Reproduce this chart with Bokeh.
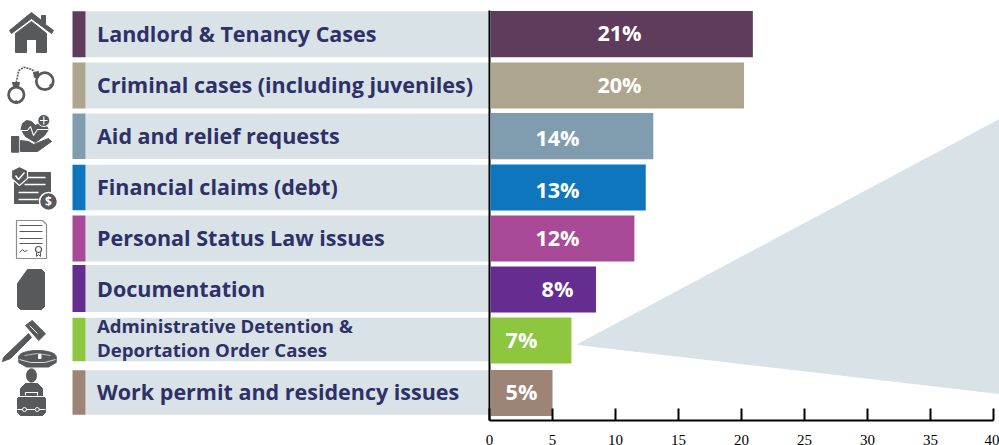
import math
from bokeh.plotting import figure
from bokeh.models import Range1d, FixedTicker
from bokeh.core.properties import value
from bokeh.embed import file_html
from bokeh.resources import INLINE

categories = ["Landlord & Tenancy Cases", "Criminal cases (including juveniles)",
              "Aid and relief requests", "Financial claims (debt)",
              "Personal Status Law issues", "Documentation",
              "Administrative Detention &\nDeportation Order Cases",
              "Work permit and residency issues"]
shares = [20.9, 20.2, 13.0, 12.4, 11.5, 8.45, 6.5, 5.0]
share_labels = ["21%", "20%", "14%", "13%", "12%", "8%", "7%", "5%"]
colors = ["#5f3c5c", "#ada58e", "#7f9dae", "#0e76bc", "#a84a97", "#652d90", "#8dc63f", "#9c8577"]
x_ticks = [0, 5, 10, 15, 20, 25, 30, 35, 40]

PANEL = "#d9e2e7"
NAVY = "#2e3068"
ICON = "#58595b"
PX = 12.6
ROW = 51.3
X0 = 489
Y0 = 34
FRAME_H = 420


def X(px):
    return (px - X0) / PX


def Y(py):
    return (py - Y0) / ROW


p = figure(width=999, height=445, frame_width=999, frame_height=FRAME_H,
           x_range=Range1d(X(0), X(999)), y_range=Range1d(Y(FRAME_H), Y(0)),
           toolbar_location=None, output_backend="svg", y_axis_location=None,
           min_border=0, min_border_left=0, min_border_right=0, min_border_top=0,
           min_border_bottom=25)
p.outline_line_color = None
p.grid.visible = False
p.background_fill_color = "white"

ax = p.xaxis[0]
ax.ticker = FixedTicker(ticks=x_ticks)
ax.bounds = (0, 40)
ax.axis_line_color = "black"
ax.axis_line_width = 2
ax.major_tick_line_color = "black"
ax.major_tick_line_width = 2
ax.major_tick_in = 12
ax.major_tick_out = 0
ax.minor_tick_line_color = None
ax.major_label_standoff = 14
ax.major_label_text_font = "Liberation Serif"
ax.major_label_text_font_size = "15px"
ax.major_label_text_color = "black"


def poly(pts, color=ICON, line=None, lw=1):
    p.patch([X(a) for a, _ in pts], [Y(b) for _, b in pts], fill_color=color,
            line_color=line if line else color, line_width=lw)


def pline(pts, color="white", lw=1.5, dash="solid"):
    p.line([X(a) for a, _ in pts], [Y(b) for _, b in pts], line_color=color,
           line_width=lw, line_dash=dash)


def dot(cx, cy, size, fill=ICON, line=None, lw=1):
    p.scatter([X(cx)], [Y(cy)], size=size, marker="circle", fill_color=fill,
              line_color=line if line else fill, line_width=lw)


def arc_pts(cx, cy, rx, ry, a0=0, a1=360, n=40):
    return [(cx + rx * math.cos(math.radians(a0 + (a1 - a0) * i / n)),
             cy + ry * math.sin(math.radians(a0 + (a1 - a0) * i / n))) for i in range(n + 1)]


# grey callout
poly([(577, 344), (999, 119), (999, 393)], PANEL, PANEL)

rows = list(range(len(categories)))
# left panels and colour strips
panel_c = [33.7, 85, 135.7, 187, 238, 288, 339, 392]
panel_h = [46, 46, 45.5, 45.5, 46, 47, 43.5, 44.5]
for r in rows:
    c = panel_c[r]
    h = panel_h[r]
    p.quad(left=X(85), right=X(489), top=Y(c - h / 2), bottom=Y(c + h / 2),
           fill_color=PANEL, line_color=None)
    p.quad(left=X(72), right=X(85), top=Y(c - h / 2), bottom=Y(c + h / 2),
           fill_color=colors[r], line_color=None)

# y axis line, behind the bars
p.segment([0], [Y(10)], [0], [Y(420)], line_color="black", line_width=2)

# bars
bar_c = [33.7, 85, 135.7, 187, 238, 289, 340, 392.5]
p.hbar(y=[Y(c) for c in bar_c], left=0.08, right=shares, height=0.9, fill_color=colors, line_color=None)

# category labels
name_c = [33, 84, 135, 186, 237, 287.5, 0, 391]
for r, name in enumerate(categories):
    if "\n" in name:
        a, b = name.split("\n")
        for t, py in ((a, 325), (b, 349)):
            p.text([X(96.5)], [Y(py)], text=[t], text_font=value("Open Sans"), text_font_style="bold",
                   text_font_size="18.6px", text_color=NAVY, text_baseline="middle")
    else:
        p.text([X(96.5)], [Y(name_c[r])], text=[name], text_font=value("Open Sans"), text_font_style="bold",
               text_font_size="21.5px", text_color=NAVY, text_baseline="middle")

# value labels
label_x = [619, 619, 557, 557, 557, 557, 521, 521]
label_c = [32, 83.5, 136.5, 188.5, 236.5, 287.5, 338.5, 390.5]
for r in rows:
    p.text([X(label_x[r])], [Y(label_c[r])], text=[share_labels[r]], text_font=value("Open Sans"),
           text_font_style="bold", text_font_size="21.6px", text_color="white",
           text_align="center", text_baseline="middle")

# --- icons ---
# house
poly([(9, 30), (31, 12), (41, 20), (41, 15), (45, 15), (45, 24), (53, 30), (51, 33), (31, 18), (11, 33)])
poly([(31, 21), (46, 33), (46, 52), (36, 52), (36, 39), (26, 39), (26, 52), (15, 52), (15, 33)])

# handcuffs
dot(15.8, 94.3, 15.5, fill=None, line=ICON, lw=2.7)
dot(44.3, 80.7, 17, fill=None, line=ICON, lw=2.7)
pline([(15.7, 82), (18.3, 70), (23.3, 66.7), (31.7, 69), (35, 73.3)], ICON, 1.6, "2 1")
poly([(12, 82), (19, 82), (18, 86), (13, 86)])
poly([(33, 72), (38, 71), (38, 77), (34, 77)])
dot(15.7, 101.7, 3)
dot(50.7, 85, 3)

# aid
poly([(35, 125), (31, 121), (26, 120), (22, 123), (20.5, 129), (25, 136), (35, 142), (44, 135), (48, 129), (45, 124), (40, 122)])
pline([(17, 130), (27, 130), (30, 126), (33, 135), (37, 129), (51, 129)], "white", 1.1)
dot(43.3, 120, 12, fill=ICON, line="white", lw=1)
pline([(39.5, 120), (47, 120)], "white", 1.2)
pline([(43.3, 116), (43.3, 124)], "white", 1.2)
poly([(11, 136), (18.3, 136), (18.3, 151.7), (11, 151.7)])
poly([(20, 140), (28, 141), (33, 144), (48, 138), (51, 141), (37, 151), (20, 151)])

# financial
poly([(14, 172), (50, 172), (50, 203), (14, 203)])
for yy in (177, 184, 192, 199):
    pline([(24 if yy < 186 else 18, yy), (45 if yy < 190 else 38, yy)], "white", 1.5)
poly([(11, 170), (19, 166), (27, 170), (27, 178), (19, 185), (11, 178)], ICON, "white", 1.2)
pline([(15, 175), (18, 179), (24, 172)], "white", 1.5)
dot(48, 201, 18, fill=ICON, line="white", lw=1.5)
p.text([X(48)], [Y(201)], text=["$"], text_font=value("Open Sans"), text_font_style="bold",
       text_font_size="12px", text_color="white", text_align="center", text_baseline="middle")

# certificate
poly([(16, 220), (42, 220), (46, 224), (46, 258), (16, 258)], "white", "#8a8c8e", 1.2)
for yy in (225, 231, 238, 243):
    pline([(19, yy), (42, yy)], ICON, 1.2)
pline([(19, 252), (22, 249), (24, 251), (27, 250)], ICON, 1)
dot(38, 249, 6, fill="white", line=ICON, lw=1.2)
pline([(36, 252), (36, 256), (38, 254), (40, 256), (40, 252)], ICON, 1)

# SIM-like document
poly([(17, 283), (27, 269), (41, 269), (44, 272), (44, 306), (41, 309), (20, 309), (17, 306)])

# gavel
poly([(25, 325), (31.7, 320), (45, 333.3), (38.3, 340)])
poly([(28, 333), (31, 337), (10, 358), (2, 361), (3, 357)])
pline([(29, 325), (37, 333)], "white", 1)
poly(arc_pts(37, 356, 18.5, 6))
poly([(18.3, 356), (55.7, 356), (55.7, 362), (48, 366.5), (26, 366.5), (18.3, 362)])
pline([(19, 359), (30, 362), (44, 362), (55, 359)], "white", 0.8)
pline([(24, 355), (37, 353), (50, 355)], "white", 0.6)
poly([(38, 354), (40.5, 354), (40.5, 358), (38, 358)], "white", "white")

# worker
poly(arc_pts(31, 375, 5, 6.7))
poly([(20, 396), (20, 388), (25, 383), (37, 383), (42, 388), (42, 396)])
poly([(17, 398), (20, 395), (42, 395), (45, 398), (45, 412), (42, 415), (20, 415), (17, 412)])
pline([(25, 395), (25, 392), (37, 392), (37, 395)], "white", 1.2)
pline([(17, 409), (45, 409)], "white", 1)
dot(24, 409, 4, fill=ICON, line="white", lw=1)
dot(36.7, 409, 4, fill=ICON, line="white", lw=1)
pline([(18, 396), (44, 396)], "white", 1)

open("out.html", "w").write(file_html(p, INLINE))
